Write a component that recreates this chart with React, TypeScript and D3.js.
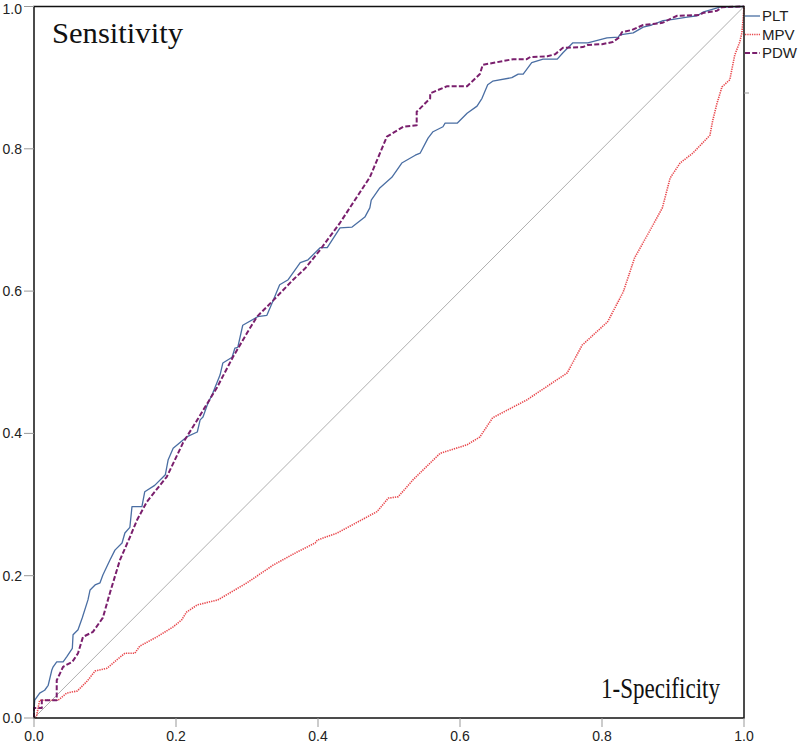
import React from "react";
import * as d3 from "d3";

const plt: [number, number][] = [
  [0,0],[0,0.011],[0.001,0.025],[0.008,0.035],[0.015,0.039],[0.02,0.046],[0.025,0.067],[0.027,0.072],
  [0.032,0.079],[0.041,0.079],[0.046,0.086],[0.054,0.098],[0.055,0.117],[0.062,0.124],[0.068,0.141],
  [0.076,0.166],[0.079,0.18],[0.086,0.187],[0.093,0.19],[0.097,0.201],[0.107,0.222],[0.114,0.236],
  [0.124,0.246],[0.128,0.26],[0.135,0.268],[0.138,0.297],[0.152,0.297],[0.156,0.318],[0.17,0.327],
  [0.185,0.342],[0.189,0.363],[0.196,0.379],[0.215,0.395],[0.23,0.402],[0.234,0.419],[0.238,0.423],
  [0.244,0.44],[0.252,0.457],[0.262,0.482],[0.266,0.499],[0.279,0.507],[0.283,0.52],[0.287,0.521],
  [0.294,0.552],[0.315,0.564],[0.328,0.566],[0.337,0.587],[0.346,0.609],[0.358,0.616],[0.375,0.64],
  [0.386,0.644],[0.403,0.661],[0.413,0.661],[0.431,0.689],[0.448,0.69],[0.466,0.704],[0.473,0.717],
  [0.475,0.728],[0.487,0.745],[0.504,0.76],[0.518,0.78],[0.537,0.791],[0.544,0.794],[0.555,0.815],
  [0.562,0.824],[0.576,0.831],[0.579,0.836],[0.596,0.836],[0.61,0.85],[0.624,0.86],[0.631,0.871],
  [0.639,0.89],[0.646,0.895],[0.673,0.9],[0.682,0.905],[0.689,0.905],[0.701,0.921],[0.717,0.926],
  [0.737,0.926],[0.745,0.935],[0.759,0.949],[0.78,0.949],[0.807,0.956],[0.823,0.957],[0.825,0.96],
  [0.844,0.963],[0.858,0.971],[0.87,0.974],[0.886,0.98],[0.9,0.982],[0.92,0.985],[0.934,0.987],
  [0.942,0.992],[0.966,0.999],[1,1]
];

const mpv: [number, number][] = [
  [0.003,0],[0.008,0.025],[0.015,0.025],[0.034,0.025],[0.046,0.035],[0.061,0.038],[0.075,0.052],
  [0.086,0.066],[0.103,0.07],[0.117,0.082],[0.128,0.091],[0.142,0.091],[0.149,0.101],[0.173,0.114],
  [0.196,0.128],[0.208,0.138],[0.215,0.149],[0.23,0.159],[0.259,0.166],[0.3,0.19],[0.337,0.215],
  [0.37,0.233],[0.396,0.246],[0.399,0.25],[0.427,0.26],[0.455,0.275],[0.483,0.29],[0.499,0.309],
  [0.513,0.311],[0.534,0.335],[0.572,0.372],[0.61,0.384],[0.628,0.395],[0.646,0.422],[0.694,0.447],
  [0.751,0.485],[0.772,0.524],[0.808,0.557],[0.83,0.599],[0.846,0.647],[0.868,0.686],[0.885,0.717],
  [0.896,0.759],[0.91,0.78],[0.928,0.794],[0.952,0.819],[0.956,0.84],[0.962,0.864],[0.969,0.887],
  [0.98,0.897],[0.987,0.932],[0.994,0.95],[0.997,0.963],[0.999,0.985],[1,1]
];

const pdw: [number, number][] = [
  [0,0],[0,0.014],[0.011,0.014],[0.011,0.025],[0.032,0.025],[0.032,0.053],[0.041,0.072],[0.054,0.079],
  [0.062,0.091],[0.069,0.114],[0.083,0.121],[0.097,0.141],[0.107,0.176],[0.121,0.222],[0.135,0.254],
  [0.145,0.278],[0.159,0.304],[0.187,0.339],[0.21,0.387],[0.23,0.419],[0.258,0.465],[0.28,0.507],
  [0.3,0.541],[0.314,0.564],[0.337,0.587],[0.365,0.616],[0.382,0.632],[0.403,0.658],[0.431,0.696],
  [0.452,0.728],[0.473,0.76],[0.497,0.817],[0.52,0.831],[0.539,0.833],[0.539,0.852],[0.558,0.871],
  [0.558,0.878],[0.582,0.888],[0.61,0.888],[0.628,0.905],[0.632,0.918],[0.675,0.926],[0.694,0.926],
  [0.699,0.929],[0.723,0.93],[0.734,0.933],[0.745,0.942],[0.773,0.943],[0.78,0.946],[0.8,0.947],
  [0.815,0.95],[0.825,0.957],[0.828,0.964],[0.842,0.967],[0.858,0.974],[0.885,0.977],[0.899,0.984],
  [0.906,0.987],[0.938,0.988],[0.942,0.991],[0.962,0.994],[0.969,0.999],[1,1]
];

const reference: [number, number][] = [[0, 0], [1, 1]];

const xTicks = [0, 0.2, 0.4, 0.6, 0.8, 1.0];
const yTicks = [0, 0.2, 0.4, 0.6, 0.8, 1.0];

const seriesNames = ["PLT", "MPV", "PDW"];

export default function App() {
  const x = d3.scaleLinear().domain([0, 1]).range([34, 744]);
  const y = d3.scaleLinear().domain([0, 1]).range([718, 6.5]);
  const line = d3.line<[number, number]>().x((d) => x(d[0])).y((d) => y(d[1]));

  const styles = [
    { name: seriesNames[0], data: plt, color: "#4a6ea3", dash: undefined as string | undefined, w: 1.3 },
    { name: seriesNames[1], data: mpv, color: "#e8474c", dash: "1.3,1", w: 1.6 },
    { name: seriesNames[2], data: pdw, color: "#7a1f6d", dash: "5,2.2", w: 2 },
  ];

  const tickFont = "Liberation Sans, Arial, sans-serif";

  return (
    <div style={{ position: "absolute", left: 0, top: 0 }}>
      <svg width={800} height={746} style={{ display: "block", background: "#fff" }}>
        <rect x={0} y={0} width={800} height={746} fill="#fff" />
        <path d={line(reference) || ""} fill="none" stroke="#999" strokeWidth={0.8} />
        {styles.map((s) => (
          <path
            key={s.name}
            d={line(s.data) || ""}
            fill="none"
            stroke={s.color}
            strokeWidth={s.w}
            strokeDasharray={s.dash}
            strokeLinejoin="round"
          />
        ))}
        <rect x={x(0)} y={y(1)} width={x(1) - x(0)} height={y(0) - y(1)} fill="none" stroke="#111" strokeWidth={1.5} />
        {yTicks.map((t) => (
          <g key={"y" + t}>
            <line x1={24} x2={x(0)} y1={y(t)} y2={y(t)} stroke="#999" strokeWidth={1} />
            <text x={22} y={Math.max(y(t) + 5, 14)} textAnchor="end" fontFamily={tickFont} fontSize={14} fill="#222">
              {t.toFixed(1)}
            </text>
          </g>
        ))}
        {xTicks.map((t) => (
          <g key={"x" + t}>
            <line x1={x(t)} x2={x(t)} y1={y(0)} y2={727} stroke="#999" strokeWidth={1} />
            <text x={x(t)} y={741} textAnchor="middle" fontFamily={tickFont} fontSize={14} fill="#222">
              {t.toFixed(1)}
            </text>
          </g>
        ))}
        <line x1={x(1)} x2={749} y1={93} y2={93} stroke="#999" strokeWidth={1} />
        {styles.map((s, i) => (
          <g key={"leg" + s.name}>
            <line x1={745} x2={760} y1={16 + i * 18.5} y2={16 + i * 18.5} stroke={s.color} strokeWidth={s.w} strokeDasharray={s.dash} />
            <text x={762} y={16 + i * 18.5} dy="0.36em" fontFamily={tickFont} fontSize={15} fill="#222">
              {s.name}
            </text>
          </g>
        ))}
        <text x={52} y={43} fontFamily="Liberation Serif, DejaVu Serif, serif" fontSize={29} fill="#111" textLength={131} lengthAdjust="spacingAndGlyphs">
          Sensitivity
        </text>
        <text x={601} y={698} fontFamily="Liberation Serif, DejaVu Serif, serif" fontSize={29} fill="#111" textLength={119} lengthAdjust="spacingAndGlyphs">
          1-Specificity
        </text>
      </svg>
    </div>
  );
}
